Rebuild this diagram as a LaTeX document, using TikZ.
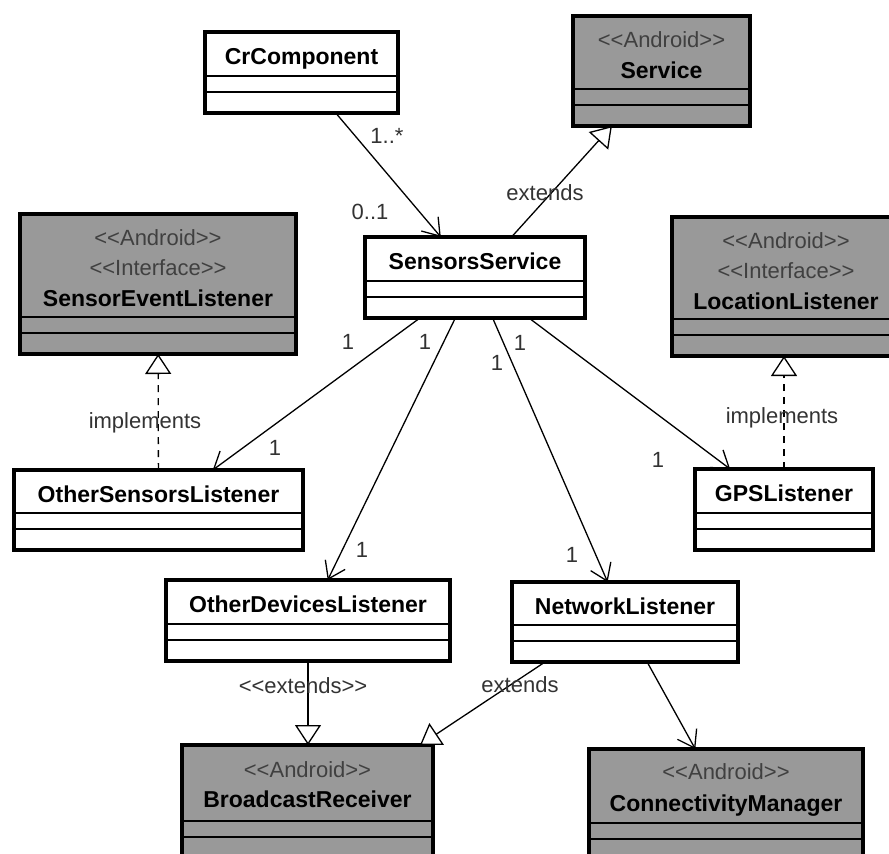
\documentclass[tikz,border=0pt]{standalone}
\usepackage{fontspec}
\newfontfamily\umlfont{Liberation Sans}
\usetikzlibrary{arrows.meta}
\definecolor{andgray}{RGB}{153,153,153}
% two compartment lines of a class box
\newcommand{\clslines}[1]{%
  \draw[sep] ([yshift=21pt]#1.south west) -- ([yshift=21pt]#1.south east);
  \draw[sep] ([yshift=37pt]#1.south west) -- ([yshift=37pt]#1.south east);}
\begin{document}
\begin{tikzpicture}[x=1pt,y=-1pt,
    cls/.style={draw, line width=3.5pt, fill=white, inner sep=0pt, outer sep=0pt},
    andcls/.style={cls, fill=andgray},
    sep/.style={line width=1.3pt},
    cname/.style={font=\umlfont\fontsize{23}{26}\selectfont\bfseries, inner sep=0pt, anchor=base},
    stereo/.style={font=\umlfont\fontsize{22}{26}\selectfont, text=black!75, inner sep=0pt, anchor=base},
    lbl/.style={font=\umlfont\fontsize{22}{26}\selectfont, text=black!80, inner sep=0pt},
    assoc/.style={line width=1.3pt, -{Straight Barb[length=16pt,width=22pt]}},
    gen/.style={line width=1.3pt, -{Triangle[length=20pt,width=26pt,fill=white]}},
    real/.style={gen, dash pattern=on 7pt off 6pt}]
    \useasboundingbox (0,0) rectangle (889,854);

    % Clases propias
    \node[cls, minimum width=193pt, minimum height=81pt] (cr) at (301.5,72.5) {};
    \node[cname] (cr-n) at ([yshift=-32pt]cr.north) {CrComponent};
    \clslines{cr}
    \node[cls, minimum width=220pt, minimum height=81pt] (ss) at (475,277.5) {};
    \node[cname] (ss-n) at ([yshift=-32pt]ss.north) {SensorsService};
    \clslines{ss}
    \node[cls, minimum width=289pt, minimum height=80pt] (osl) at (158.5,510) {};
    \node[cname] (osl-n) at ([yshift=-32pt]osl.north) {OtherSensorsListener};
    \clslines{osl}
    \node[cls, minimum width=178pt, minimum height=81pt] (gps) at (784,509.5) {};
    \node[cname] (gps-n) at ([yshift=-32pt]gps.north) {GPSListener};
    \clslines{gps}
    \node[cls, minimum width=284pt, minimum height=81pt] (odl) at (308,620.5) {};
    \node[cname] (odl-n) at ([yshift=-32pt]odl.north) {OtherDevicesListener};
    \clslines{odl}
    \node[cls, minimum width=226pt, minimum height=80pt] (nl) at (625,622) {};
    \node[cname] (nl-n) at ([yshift=-32pt]nl.north) {NetworkListener};
    \clslines{nl}

    % Clases de Android
    \node[andcls, minimum width=177pt, minimum height=110pt] (service) at (661.5,71) {};
    \node[stereo] (service-s) at ([yshift=-31pt]service.north) {<<Android>>};
    \node[cname] (service-n) at ([yshift=-62pt]service.north) {Service};
    \clslines{service}
    \node[andcls, minimum width=276pt, minimum height=140pt] (sel) at (158,284) {};
    \node[stereo] (sel-s) at ([yshift=-31pt]sel.north) {<<Android>>};
    \node[stereo] (sel-i) at ([yshift=-61pt]sel.north) {<<Interface>>};
    \node[cname] (sel-n) at ([yshift=-92pt]sel.north) {SensorEventListener};
    \clslines{sel}
    \node[andcls, minimum width=228pt, minimum height=139pt] (loc) at (786,286.5) {};
    \node[stereo] (loc-s) at ([yshift=-31pt]loc.north) {<<Android>>};
    \node[stereo] (loc-i) at ([yshift=-61pt]loc.north) {<<Interface>>};
    \node[cname] (loc-n) at ([yshift=-92pt]loc.north) {LocationListener};
    \clslines{loc}
    \node[andcls, minimum width=251pt, minimum height=113pt] (br) at (307.5,801.5) {};
    \node[stereo] (br-s) at ([yshift=-32pt]br.north) {<<Android>>};
    \node[cname] (br-n) at ([yshift=-62pt]br.north) {BroadcastReceiver};
    \clslines{br}
    \node[andcls, minimum width=274pt, minimum height=111pt] (cm) at (726,804.5) {};
    \node[stereo] (cm-s) at ([yshift=-30pt]cm.north) {<<Android>>};
    \node[cname] (cm-n) at ([yshift=-62pt]cm.north) {ConnectivityManager};
    \clslines{cm}

    % Relaciones
    \draw[assoc] (cr) -- (ss);
    \draw[gen] (ss) -- (service);
    \draw[assoc] (ss) -- (osl);
    \draw[assoc] (ss) -- (odl);
    \draw[assoc] (ss) -- (nl);
    \draw[assoc] (ss) -- (gps);
    \draw[real] (osl) -- (sel);
    \draw[real] (gps.north) -- (gps.north |- loc.south);
    \draw[gen] (odl.south) -- (odl.south |- br.north);
    \draw[gen] ([xshift=33pt]nl.south west) -- ([xshift=-13pt]br.north east);
    \draw[assoc] (nl) -- (cm);

    % Etiquetas
    \node[lbl] (m-cr) at (387,136) {1..*};
    \node[lbl] (m-ss) at (370,212) {0..1};
    \node[lbl] (e-ss) at (545,193) {extends};
    \node[lbl] (m-osl1) at (348,342) {1};
    \node[lbl] (m-odl1) at (425,342) {1};
    \node[lbl] (m-osl2) at (275,448) {1};
    \node[lbl] (m-odl2) at (362,550) {1};
    \node[lbl] (m-gps1) at (520,343) {1};
    \node[lbl] (m-nl1) at (497,363) {1};
    \node[lbl] (m-nl2) at (572,555) {1};
    \node[lbl] (m-gps2) at (658,460) {1};
    \node[lbl] (i-osl) at (145,423) {implements};
    \node[lbl] (i-gps) at (782,418) {implements};
    \node[lbl] (e-odl) at (303,686) {<<extends>>};
    \node[lbl] (e-nl) at (520,685) {extends};
\end{tikzpicture}
\end{document}
